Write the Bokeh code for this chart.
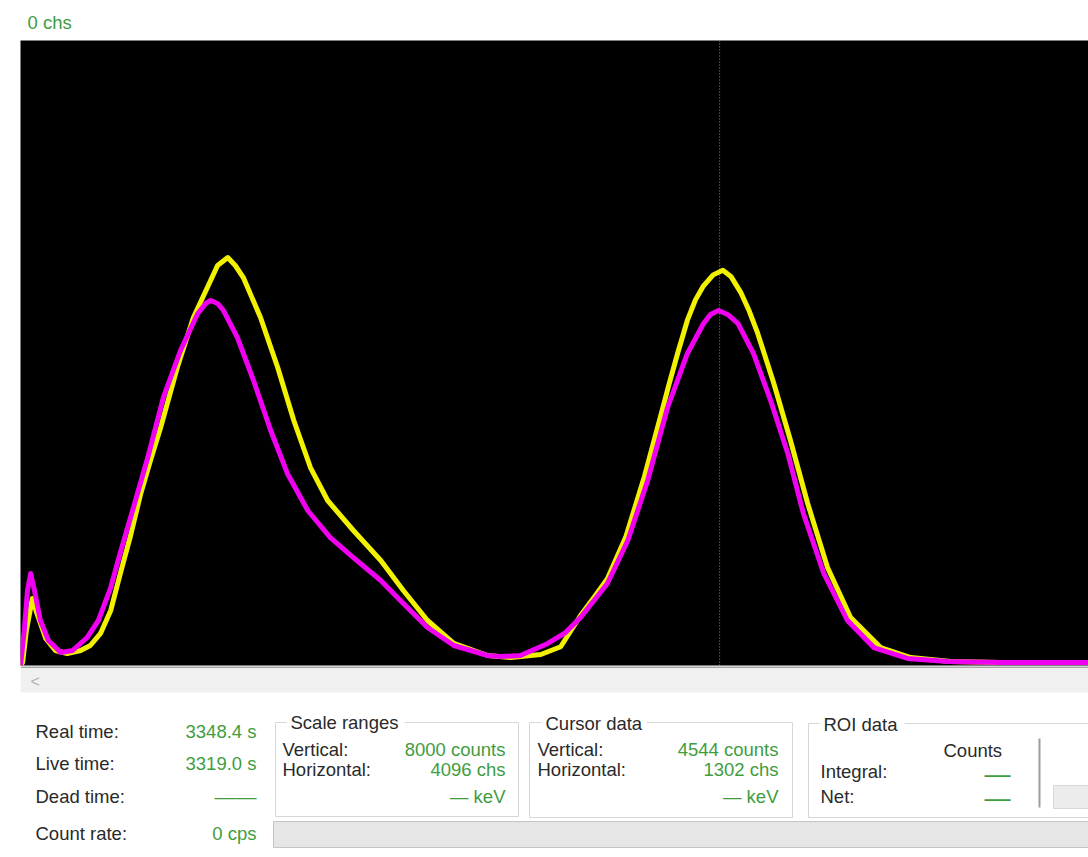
from bokeh.plotting import figure
from bokeh.models import Range1d, Span
from bokeh.layouts import column
from bokeh.embed import file_html
from bokeh.resources import INLINE
from bokeh.core.properties import value

# ---------------- data ----------------
yellow_ch = [0, 4, 11, 22, 30, 47, 65, 87, 112, 130, 149, 168, 186, 205, 224, 242, 261, 292, 322, 348,
             367, 386, 400, 415, 447, 479, 509, 540, 572, 620, 671, 713, 758, 807, 870, 913, 969, 1006,
             1043, 1071, 1093, 1127, 1162, 1190, 1207, 1224, 1242, 1257, 1272, 1290, 1308, 1323, 1341,
             1357, 1373, 1403, 1434, 1466, 1503, 1546, 1602, 1658, 1732, 1825, 1990]
yellow_counts = [0, 38, 448, 858, 678, 346, 192, 154, 192, 256, 410, 704, 1178, 1664, 2202, 2624, 3046,
                 3814, 4454, 4838, 5120, 5222, 5120, 4966, 4454, 3814, 3136, 2534, 2112, 1728, 1344, 960,
                 576, 282, 128, 102, 141, 240, 640, 900, 1110, 1640, 2420, 3136, 3580, 4000, 4420, 4680,
                 4860, 5000, 5060, 4980, 4780, 4540, 4250, 3610, 2880, 2074, 1254, 614, 230, 102, 51,
                 38, 38]

magenta_ch = [0, 7, 13, 19, 26, 37, 52, 75, 97, 124, 145, 168, 186, 205, 237, 266, 298, 330, 345, 354,
              367, 378, 404, 434, 466, 497, 535, 577, 620, 671, 713, 758, 807, 870, 894, 931, 982, 1015,
              1043, 1071, 1093, 1131, 1168, 1205, 1242, 1272, 1285, 1300, 1317, 1336, 1365, 1397, 1429,
              1458, 1496, 1540, 1589, 1652, 1727, 1825, 1990]
magenta_counts = [0, 448, 960, 1178, 960, 576, 320, 166, 192, 358, 576, 998, 1446, 1894, 2662, 3430,
                  4032, 4506, 4634, 4672, 4634, 4544, 4198, 3648, 3008, 2458, 1984, 1638, 1382, 1088,
                  794, 486, 256, 128, 115, 128, 282, 422, 614, 858, 1050, 1600, 2368, 3302, 3994, 4378,
                  4493, 4544, 4493, 4378, 3994, 3392, 2714, 1946, 1178, 576, 230, 90, 51, 38, 38]

vertical_scale = 8000          # counts
visible_channels = 1989        # channels shown in the window
cursor_channel = 1302
header_text = "0 chs"

status_labels = ["Real time:", "Live time:", "Dead time:", "Count rate:"]
status_values = ["3348.4 s", "3319.0 s", "——", "0 cps"]
group_titles = ["Scale ranges", "Cursor data", "ROI data"]
axis_labels = ["Vertical:", "Horizontal:"]
scale_values = ["8000 counts", "4096 chs", "— keV"]
cursor_values = ["4544 counts", "1302 chs", "— keV"]
roi_header = "Counts"
roi_labels = ["Integral:", "Net:"]
roi_values = ["—", "—"]

# ---------------- styles ----------------
FONT = "Liberation Sans"
FS = "18.5px"
GREEN = "#3f9d3f"
DARK = "#2a2a2a"
W = 1088


def panel(height, y_top, y_bottom):
    f = figure(width=W, height=height, x_range=Range1d(20, W), y_range=Range1d(y_bottom, y_top),
               output_backend="svg", toolbar_location=None, x_axis_location=None,
               y_axis_location=None, min_border_left=20, min_border_right=0, min_border_top=0,
               min_border_bottom=0, background_fill_color="white", border_fill_color="white",
               outline_line_color=None)
    f.xgrid.visible = False
    f.ygrid.visible = False
    return f


# ---------------- header strip ----------------
h = panel(40, 0, 40)
h.text(x=[27], y=[22], text=[header_text], text_font=value(FONT), text_font_size=value(FS),
       text_color=GREEN, text_baseline="middle")

# ---------------- spectrum ----------------
p = figure(width=W, height=626, x_range=Range1d(0, visible_channels),
           y_range=Range1d(0, vertical_scale), output_backend="svg", toolbar_location=None,
           x_axis_location=None, y_axis_location=None,
           min_border_left=20, min_border_right=0, min_border_top=0, min_border_bottom=1,
           background_fill_color="black", border_fill_color="white", outline_line_color=None)
p.xgrid.visible = False
p.ygrid.visible = False

p.add_layout(Span(location=cursor_channel, dimension="height", line_color="#8c8c8c",
                  line_width=1, line_dash="1 2", level="underlay"))
p.line(yellow_ch, yellow_counts, line_color="#f2f200", line_width=5, line_join="round")
p.line(magenta_ch, magenta_counts, line_color="#f000f0", line_width=5, line_join="round")

# ---------------- status panel ----------------
q = panel(191, 666, 857)

# scrollbar
q.quad(left=[20], right=[W], top=[667], bottom=[692], fill_color="#f0f0f0", line_color=None)
q.segment(x0=[20], y0=[666.5], x1=[W], y1=[666.5], line_color="#a8a8a8", line_width=2)
q.text(x=[30], y=[681], text=["<"], text_font=value(FONT), text_font_size=value("16px"),
       text_color="#b0b0b0", text_baseline="middle")

# group boxes
q.quad(left=[275, 529, 808], right=[518, 792, 1100], top=[722, 722, 723], bottom=[816, 817, 817],
       fill_color=None, line_color="#d6d6d6", line_width=1)
q.quad(left=[286, 541, 819], right=[404, 646, 904], top=[714, 714, 714], bottom=[731, 731, 731],
       fill_color="white", line_color=None)
q.text(x=[290, 545, 823], y=[722, 723, 724], text=group_titles, text_font=value(FONT),
       text_font_size=value(FS), text_color=DARK, text_baseline="middle")

# progress bars
q.quad(left=[273], right=[1100], top=[821], bottom=[847], fill_color="#e6e6e6", line_color="#c4c4c4")
q.quad(left=[1053], right=[1100], top=[785], bottom=[808], fill_color="#ececec", line_color="#d8d8d8")
q.segment(x0=[1039], y0=[738], x1=[1039], y1=[807], line_color="#9c9c9c", line_width=2)

# left status column
rows = [731, 763, 796, 833]
q.text(x=[35] * 4, y=rows, text=status_labels, text_font=value(FONT), text_font_size=value(FS),
       text_color=DARK, text_baseline="middle")
q.text(x=[256, 256, 256], y=[rows[0], rows[1], rows[3]],
       text=[status_values[0], status_values[1], status_values[3]], text_font=value(FONT),
       text_font_size=value(FS), text_color=GREEN, text_align="right", text_baseline="middle")
q.text(x=[256], y=[rows[2]], text=[status_values[2]], text_font=value(FONT),
       text_font_size=value("21px"), text_color=GREEN, text_align="right", text_baseline="middle")

# scale ranges / cursor data
for lx, rx, vals in [(282, 505, scale_values), (537, 778, cursor_values)]:
    q.text(x=[lx, lx], y=[749, 769], text=axis_labels, text_font=value(FONT),
           text_font_size=value(FS), text_color=DARK, text_baseline="middle")
    q.text(x=[rx] * 3, y=[749, 769, 796], text=vals, text_font=value(FONT),
           text_font_size=value(FS), text_color=GREEN, text_align="right", text_baseline="middle")

# ROI data
q.text(x=[943], y=[750], text=[roi_header], text_font=value(FONT), text_font_size=value(FS),
       text_color=DARK, text_baseline="middle")
q.text(x=[820, 820], y=[771, 796], text=roi_labels, text_font=value(FONT), text_font_size=value(FS),
       text_color=DARK, text_baseline="middle")
q.text(x=[1010, 1010], y=[773, 797], text=roi_values, text_font=value(FONT),
       text_font_size=value("26px"), text_color=GREEN, text_align="right", text_baseline="middle")

layout = column(h, p, q, spacing=0)
open("out.html", "w").write(file_html(layout, INLINE))
